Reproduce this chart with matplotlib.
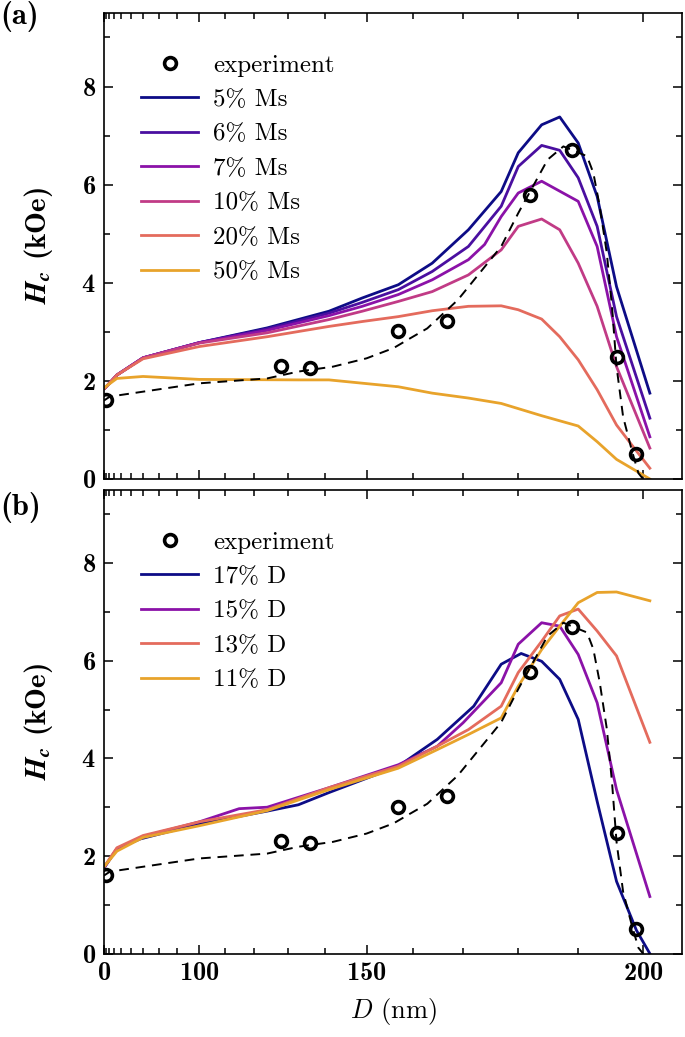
import numpy as np
import matplotlib.pyplot as plt
from matplotlib.ticker import FixedLocator, NullFormatter

plt.rcParams['font.family'] = 'cmr10'
plt.rcParams['mathtext.fontset'] = 'cm'
plt.rcParams['axes.formatter.use_mathtext'] = True
plt.rcParams['axes.linewidth'] = 1.2

# experiment (same in both panels)
exp_D = [20, 128, 136, 157, 167, 182, 189, 196, 199]
exp_H = [1.61, 2.31, 2.26, 3.01, 3.23, 5.78, 6.70, 2.48, 0.50]

# dashed guide through experiment
fit_D = [0, 33, 100, 124, 133, 142, 150, 156, 159, 163, 169, 177, 180, 185,
         187.6, 191.4, 192.4, 193.4, 194.5, 195.3, 196, 197, 198.3, 199.3, 200]
fit_H = [1.60, 1.68, 1.95, 2.05, 2.19, 2.29, 2.46, 2.67, 2.84, 3.07, 3.65, 4.74, 5.42, 6.51,
         6.78, 6.58, 6.24, 5.56, 4.61, 3.52, 2.29, 1.27, 0.59, 0.12, 0.0]

# (a) varying Ms
D_a = [15, 45, 70, 100, 124, 141, 149, 157, 164, 171, 177, 180, 184, 187, 190, 193, 196, 201]
ms5 = [1.85, 2.12, 2.47, 2.78, 3.08, 3.42, 3.69, 3.96, 4.40, 5.08, 5.86, 6.65, 7.22, 7.38, 6.85, 5.76, 3.92, 1.75]
ms6 = [1.85, 2.12, 2.47, 2.78, 3.06, 3.38, 3.60, 3.86, 4.23, 4.74, 5.56, 6.37, 6.80, 6.70, 6.14, 5.15, 3.31, 1.24]
ms10 = [1.85, 2.12, 2.47, 2.77, 2.98, 3.25, 3.42, 3.62, 3.82, 4.16, 4.67, 5.15, 5.30, 5.08, 4.40, 3.52, 2.29, 0.63]
D_ms7 = [15, 45, 70, 100, 124, 141, 149, 157, 164, 171, 174, 177, 180, 184, 190, 193, 196, 201]
ms7 = [1.85, 2.12, 2.47, 2.78, 3.03, 3.33, 3.52, 3.76, 4.06, 4.47, 4.78, 5.35, 5.83, 6.07, 5.66, 4.74, 2.90, 0.86]
D_ms20 = [15, 45, 70, 100, 124, 141, 149, 157, 164, 171, 177, 180, 184, 187, 190, 193, 196, 198.5, 201]
ms20 = [1.85, 2.12, 2.45, 2.70, 2.90, 3.11, 3.21, 3.31, 3.43, 3.52, 3.53, 3.45, 3.26, 2.90, 2.43, 1.82, 1.10, 0.66, 0.22]
D_ms50 = [15, 45, 70, 100, 133, 141, 157, 164, 171, 177, 184, 190, 193, 196, 201]
ms50 = [1.87, 2.05, 2.09, 2.03, 2.02, 2.02, 1.88, 1.75, 1.65, 1.54, 1.29, 1.08, 0.76, 0.40, 0.0]

# (b) varying D
D_d17 = [15, 45, 68, 100, 124, 133, 141, 157, 165, 172, 177, 180.5, 184, 187, 190, 193, 196, 199, 201]
d17 = [1.78, 2.15, 2.35, 2.66, 2.92, 3.05, 3.30, 3.84, 4.39, 5.07, 5.93, 6.15, 5.99, 5.62, 4.80, 3.12, 1.48, 0.48, 0.0]
D_d15 = [15, 45, 70, 100, 115, 124, 141, 157, 165, 170, 177, 180, 184, 187, 190, 193, 196, 201]
d15 = [1.78, 2.15, 2.40, 2.70, 2.97, 3.00, 3.40, 3.87, 4.25, 4.73, 5.55, 6.34, 6.78, 6.71, 6.13, 5.14, 3.36, 1.17]
D_b = [15, 45, 70, 100, 124, 141, 157, 165, 171, 177, 180, 184, 187, 190, 193, 196, 201]
d13 = [1.80, 2.17, 2.42, 2.70, 2.95, 3.40, 3.84, 4.25, 4.59, 5.07, 5.76, 6.40, 6.92, 7.06, 6.61, 6.10, 4.33]
d11 = [1.80, 2.10, 2.38, 2.62, 2.93, 3.36, 3.80, 4.18, 4.49, 4.83, 5.48, 6.23, 6.71, 7.19, 7.40, 7.41, 7.23]

navy = '#0d0c86'
indigo = '#4a0fa0'
purple = '#8b12a8'
pink = '#c13b86'
salmon = '#e46b5d'
orange = '#e8a32b'
LW = 2.0


def fwd(x):
    x = np.asarray(x, dtype=float)
    return np.sign(x) * np.abs(x) ** 2.5


def inv(x):
    x = np.asarray(x, dtype=float)
    return np.sign(x) * np.abs(x) ** 0.4


fig = plt.figure(figsize=(6.85, 10.37), dpi=100)
ax1 = fig.add_axes([0.1518, 0.5381, 0.8443, 0.4494])
ax2 = fig.add_axes([0.1518, 0.0804, 0.8443, 0.4471])

ax1.plot(exp_D, exp_H, 'o', mfc='none', mec='black', mew=2.6, ms=8.5, label='experiment', zorder=5)
ax1.plot(D_a, ms5, c=navy, lw=LW, label='5% Ms')
ax1.plot(D_a, ms6, c=indigo, lw=LW, label='6% Ms')
ax1.plot(D_ms7, ms7, c=purple, lw=LW, label='7% Ms')
ax1.plot(D_a, ms10, c=pink, lw=LW, label='10% Ms')
ax1.plot(D_ms20, ms20, c=salmon, lw=LW, label='20% Ms')
ax1.plot(D_ms50, ms50, c=orange, lw=LW, label='50% Ms')
ax1.plot(fit_D, fit_H, c='black', lw=1.4, ls=(0, (5, 3.5)), zorder=4)

ax2.plot(exp_D, exp_H, 'o', mfc='none', mec='black', mew=2.6, ms=8.5, label='experiment', zorder=5)
ax2.plot(D_d17, d17, c=navy, lw=LW, label='17% D')
ax2.plot(D_d15, d15, c=purple, lw=LW, label='15% D')
ax2.plot(D_b, d13, c=salmon, lw=LW, label='13% D')
ax2.plot(D_b, d11, c=orange, lw=LW, label='11% D')
ax2.plot(fit_D, fit_H, c='black', lw=1.4, ls=(0, (5, 3.5)), zorder=4)

for ax in [ax1, ax2]:
    ax.set_xscale('function', functions=(fwd, inv))
    ax.set_xlim(0, 205.7)
    ax.set_ylim(0, 9.5)
    ax.xaxis.set_major_locator(FixedLocator([0, 100, 150, 200]))
    ax.xaxis.set_minor_locator(FixedLocator([10, 20, 30, 40, 50, 60, 70, 80, 90, 110, 120, 130, 140,
                                             160, 170, 180, 190]))
    ax.set_yticks([0, 2, 4, 6, 8])
    ax.yaxis.set_minor_locator(FixedLocator([1, 3, 5, 7, 9]))
    ax.tick_params(which='both', direction='in', top=True, right=True, width=1.1)
    ax.tick_params(which='major', length=6.5, labelsize=19, pad=6)
    ax.tick_params(which='minor', length=4)
    for lab in ax.get_xticklabels() + ax.get_yticklabels():
        lab.set_family('cmb10')
    ax.set_ylabel(r'$\mathbfit{H_c}$ (kOe)', fontsize=21, family='cmb10', math_fontfamily='stix')
    ax.yaxis.set_label_coords(-0.085, 0.5)
    ax.legend(loc='upper left', bbox_to_anchor=(0.025, 0.96), frameon=False, fontsize=18,
              handlelength=2.3, handletextpad=0.6, labelspacing=0.48)

ax1.xaxis.set_major_formatter(NullFormatter())
ax2.set_xlabel(r'$D$ (nm)', fontsize=19, labelpad=8)

fig.text(0.0, 0.999, '(a)', fontsize=22, family='cmb10', va='top', ha='left')
fig.text(0.0, 0.526, '(b)', fontsize=22, family='cmb10', va='top', ha='left')

fig.savefig('out.png', dpi=100)
